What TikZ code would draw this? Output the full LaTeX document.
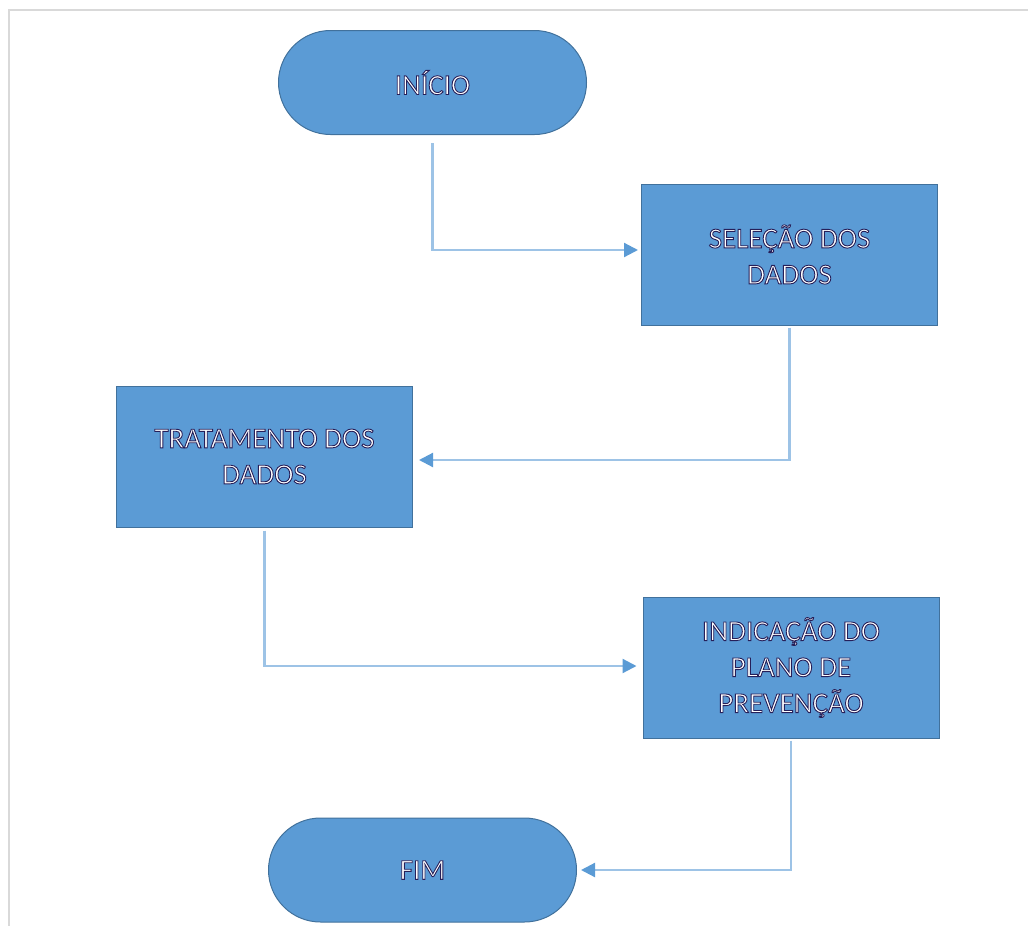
\documentclass[tikz,border=0pt]{standalone}
\usepackage{fontspec}
\setmainfont{Carlito}
\usetikzlibrary{shapes.misc,arrows.meta,calc}
\definecolor{boxfill}{HTML}{5B9BD5}
\definecolor{boxedge}{HTML}{41719C}
\definecolor{linecol}{HTML}{9DC3E6}
\definecolor{framecol}{HTML}{D9D9D9}
\newcommand{\outl}[1]{\special{pdf:literal direct 2 Tr 0.9 w 0.15 0.12 0.35 RG}#1\special{pdf:literal direct 0 Tr}}
\tikzset{
  stepbox/.style={draw=boxedge, fill=boxfill, line width=1pt, minimum width=296pt, minimum height=141pt,
    text=white, align=center, font=\fontsize{29}{36}\selectfont, inner sep=0pt},
  termbox/.style={rounded rectangle, draw=boxedge, fill=boxfill, line width=1pt, minimum width=308pt, minimum height=104pt,
    text=white, font=\fontsize{29}{36}\selectfont, inner sep=0pt},
  conn/.style={draw=linecol, line width=2.2pt, -{Triangle[length=14pt,width=14pt,color=boxfill]}}
}
\begin{document}
\begin{tikzpicture}[x=1pt,y=-1pt]
\useasboundingbox (0,0) rectangle (1028,926);
\draw[framecol, line width=2pt] (8.5,926) -- (8.5,9.5) -- (1028,9.5);
\node[termbox] (inicio) at (432.5,82.5) {\outl{INÍCIO}};
\node[stepbox] (selecao) at (789.5,254.5) {\outl{SELEÇÃO DOS}\\\outl{DADOS}};
\node[stepbox] (tratamento) at (264.5,456.5) {\outl{TRATAMENTO DOS}\\\outl{DADOS}};
\node[stepbox] (indicacao) at (791,667.5) {\outl{INDICAÇÃO DO}\\\outl{PLANO DE}\\\outl{PREVENÇÃO}};
\node[termbox] (fim) at (422.5,870) {\outl{FIM}};
\draw[conn, shorten >=3pt] ([yshift=-8pt]inicio.south) |- ([yshift=4.5pt]selecao.west);
\draw[conn, shorten >=6pt] ([yshift=-2pt]selecao.south) |- ([yshift=-3.5pt]tratamento.east);
\draw[conn, shorten >=6pt] ([yshift=-3pt]tratamento.south) |- ([yshift=1.5pt]indicacao.west);
\draw[conn, shorten >=4pt] ([yshift=-2pt]indicacao.south) |- (fim.east);
\end{tikzpicture}
\end{document}
